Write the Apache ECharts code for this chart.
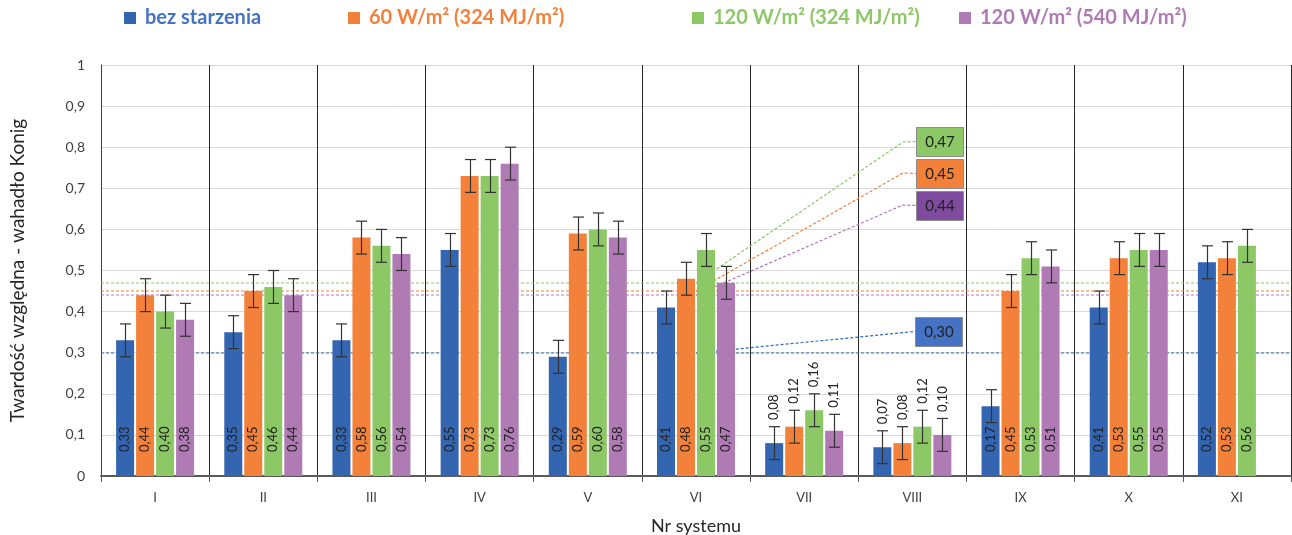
<!DOCTYPE html>
<html>
<head>
<meta charset="utf-8">
<script src="https://cdn.jsdelivr.net/npm/echarts@6/dist/echarts.min.js"></script>
<style>
  html, body { margin: 0; padding: 0; background: #ffffff; }
  #chart { width: 1292px; height: 535px; }
</style>
</head>
<body>
<div id="chart"></div>
<script>
// Systems on the x axis
const categories = ['I', 'II', 'III', 'IV', 'V', 'VI', 'VII', 'VIII', 'IX', 'X', 'XI'];

// Series names (ageing conditions)
const seriesNames = ['bez starzenia', '60 W/m² (324 MJ/m²)', '120 W/m² (324 MJ/m²)', '120 W/m² (540 MJ/m²)'];

// Relative hardness (König pendulum) per system
const bezStarzenia = [0.33, 0.35, 0.33, 0.55, 0.29, 0.41, 0.08, 0.07, 0.17, 0.41, 0.52];
const w60_324      = [0.44, 0.45, 0.58, 0.73, 0.59, 0.48, 0.12, 0.08, 0.45, 0.53, 0.53];
const w120_324     = [0.40, 0.46, 0.56, 0.73, 0.60, 0.55, 0.16, 0.12, 0.53, 0.55, 0.56];
const w120_540     = [0.38, 0.44, 0.54, 0.76, 0.58, 0.47, 0.11, 0.10, 0.51, 0.55, null];

// Standard deviations (error bars)
const errBez     = [0.04, 0.04, 0.04, 0.04, 0.04, 0.04, 0.04, 0.04, 0.04, 0.04, 0.04];
const err60_324  = [0.04, 0.04, 0.04, 0.04, 0.04, 0.04, 0.04, 0.04, 0.04, 0.04, 0.04];
const err120_324 = [0.04, 0.04, 0.04, 0.04, 0.04, 0.04, 0.04, 0.04, 0.04, 0.04, 0.04];
const err120_540 = [0.04, 0.04, 0.04, 0.04, 0.04, 0.04, 0.04, 0.04, 0.04, 0.04, null];

// Mean level of each series (dashed reference lines)
const meanLevels = [0.30, 0.45, 0.47, 0.44];

// Systems whose value labels sit above the error bar
const labelAboveCats = ['VII', 'VIII'];

const seriesValues = [bezStarzenia, w60_324, w120_324, w120_540];
const seriesErrors = [errBez, err60_324, err120_324, err120_540];

const barColors      = ['#3465B0', '#F4813A', '#8CC866', '#B07AB4'];
const legendColors   = ['#4472C4', '#F4813A', '#8CC866', '#B07AB4'];
const meanLineColors = ['#2F6EBA', '#F4813A', '#8CC866', '#B07AB4'];
const boxColors      = ['#4472C4', '#F4813A', '#8CC866', '#7F4B9E'];
const legendLeft     = [124, 348, 692, 959];

const FONT = 'Lato, "Open Sans", sans-serif';
const fmt = v => v.toFixed(2).replace('.', ',');

const BAR_W = 18, BAR_STEP = 20;

function errorRenderer(k) {
  return function (params, api) {
    const xi = api.value(0), v = api.value(1), e = api.value(2);
    const hi = api.coord([xi, v + e]);
    const lo = api.coord([xi, v - e]);
    const cx = Math.round(hi[0] + (k - 1.5) * BAR_STEP) + 0.5;
    const hw = 5.5;
    const st = { stroke: '#333333', lineWidth: 1.2 };
    return {
      type: 'group',
      children: [
        { type: 'line', shape: { x1: cx, y1: hi[1], x2: cx, y2: lo[1] }, style: st },
        { type: 'line', shape: { x1: cx - hw, y1: hi[1], x2: cx + hw, y2: hi[1] }, style: st },
        { type: 'line', shape: { x1: cx - hw, y1: lo[1], x2: cx + hw, y2: lo[1] }, style: st }
      ]
    };
  };
}

const series = [];
seriesValues.forEach((vals, k) => {
  series.push({
    name: seriesNames[k],
    type: 'bar',
    barWidth: BAR_W,
    barGap: '11.11%',
    z: 2,
    itemStyle: { color: barColors[k] },
    emphasis: { disabled: true },
    label: {
      show: true,
      position: 'insideBottom',
      distance: 24,
      rotate: 90,
      align: 'left',
      verticalAlign: 'middle',
      fontFamily: FONT,
      fontSize: 13,
      color: '#222222',
      formatter: p => fmt(p.value)
    },
    data: vals.map((v, i) => {
      if (v == null) return null;
      if (labelAboveCats.includes(categories[i])) {
        return { value: v, label: { position: 'top', distance: 23 } };
      }
      return v;
    })
  });
});
seriesValues.forEach((vals, k) => {
  series.push({
    type: 'custom',
    z: 3,
    silent: true,
    renderItem: errorRenderer(k),
    data: vals.map((v, i) => [i, v, seriesErrors[k][i]]).filter(d => d[1] != null)
  });
});

const legends = seriesNames.map((n, k) => ({
  top: 8,
  left: legendLeft[k],
  padding: 0,
  icon: 'rect',
  itemWidth: 12,
  itemHeight: 12,
  selectedMode: false,
  data: [{ name: n, textStyle: { color: legendColors[k] } }],
  textStyle: { fontFamily: FONT, fontSize: 20, fontWeight: 'bold', padding: [0, 0, 0, 4] }
}));

const chart = echarts.init(document.getElementById('chart'), null, { renderer: 'canvas' });

chart.setOption({
  animation: false,
  backgroundColor: '#ffffff',
  legend: legends,
  grid: { left: 101, right: 1, top: 65, bottom: 59, containLabel: false, outerBoundsMode: 'none' },
  xAxis: {
    type: 'category',
    data: categories,
    name: 'Nr systemu',
    nameLocation: 'middle',
    nameGap: 41,
    nameTextStyle: { fontFamily: FONT, fontSize: 18, color: '#262626' },
    axisLine: { show: true, lineStyle: { color: '#595959', width: 2 } },
    axisTick: { show: true, length: 6, lineStyle: { color: '#595959' } },
    axisLabel: { fontFamily: FONT, fontSize: 13, color: '#404040', margin: 15 },
    splitLine: { show: true, lineStyle: { color: '#262626', width: 1 } }
  },
  yAxis: {
    type: 'value',
    min: 0,
    max: 1,
    interval: 0.1,
    name: 'Twardość względna - wahadło Konig',
    nameLocation: 'middle',
    nameGap: 74,
    nameTextStyle: { fontFamily: FONT, fontSize: 19, color: '#262626' },
    axisLine: { show: true, lineStyle: { color: '#404040', width: 1 } },
    axisTick: { show: false },
    axisLabel: {
      fontFamily: FONT, fontSize: 14, color: '#404040', margin: 16,
      formatter: v => String(+v.toFixed(1)).replace('.', ',')
    },
    splitLine: { show: true, lineStyle: { color: '#d9d9d9', width: 1 } }
  },
  series: series
});

// Mean-level lines across the plot, with leader lines from system VI to value boxes
const leaderCat = 'VI';
const boxes = [
  { k: 0, bend: null,       box: [915, 317] },
  { k: 3, bend: [903, 205], box: [916, 191] },
  { k: 1, bend: [903, 173], box: [916, 159] },
  { k: 2, bend: [903, 142], box: [916, 127] }
];
const BOX_W = 47, BOX_H = 29;
const xFirst = chart.convertToPixel({ xAxisIndex: 0 }, categories[0]);
const xLast = chart.convertToPixel({ xAxisIndex: 0 }, categories[categories.length - 1]);
const half = (xLast - xFirst) / (categories.length - 1) / 2;
const graphics = [];
boxes.forEach(b => {
  const p = chart.convertToPixel({ xAxisIndex: 0, yAxisIndex: 0 }, [leaderCat, meanLevels[b.k]]);
  const yLine = Math.round(p[1]);
  const dash = { stroke: meanLineColors[b.k], lineWidth: 1.2, lineDash: [3, 2], fill: null };
  graphics.push({
    type: 'line',
    z: 1,
    silent: true,
    shape: { x1: xFirst - half, y1: yLine, x2: xLast + half, y2: yLine },
    style: dash
  });
  const yMid = b.box[1] + BOX_H / 2;
  const pts = b.bend ? [[p[0], yLine], b.bend, [b.box[0], yMid]] : [[p[0], yLine], [b.box[0], yMid]];
  graphics.push({
    type: 'polyline',
    z: 1,
    silent: true,
    shape: { points: pts },
    style: dash
  });
  graphics.push({
    type: 'rect',
    z: 10,
    silent: true,
    shape: { x: b.box[0] + 0.5, y: b.box[1] + 0.5, width: BOX_W, height: BOX_H },
    style: { fill: boxColors[b.k], stroke: '#8c8c8c', lineWidth: 1 }
  });
  graphics.push({
    type: 'text',
    z: 11,
    silent: true,
    style: {
      x: b.box[0] + BOX_W / 2 + 0.5,
      y: yMid + 0.5,
      text: fmt(meanLevels[b.k]),
      align: 'center',
      verticalAlign: 'middle',
      fontFamily: FONT,
      fontSize: 15,
      fill: '#222222'
    }
  });
});
chart.setOption({ graphic: graphics });
</script>
</body>
</html>
